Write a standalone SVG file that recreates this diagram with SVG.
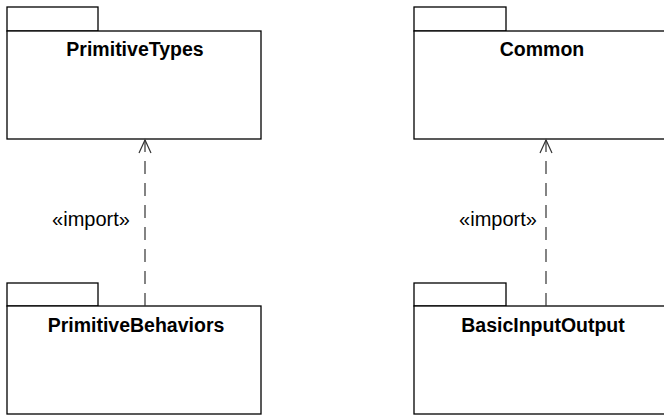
<svg xmlns="http://www.w3.org/2000/svg" width="664" height="416" viewBox="0 0 664 416">
<style>
.box{fill:#fff;stroke:#000;stroke-width:1.3}
.name{font-family:"Liberation Sans",Arial,sans-serif;font-weight:bold;font-size:19.5px;text-anchor:middle}
.lbl{font-family:"Liberation Sans",Arial,sans-serif;font-size:20px;text-anchor:middle}
.dep{stroke:#333;stroke-width:1.2;stroke-dasharray:13,9;fill:none}
.head{stroke:#333;stroke-width:1.2;fill:none}
</style>
<rect width="664" height="416" fill="#fff"/>
<g id="PrimitiveTypes">
<rect class="box" x="7" y="7" width="91" height="24"/>
<rect class="box" x="7" y="31" width="254" height="108"/>
<text class="name" x="135" y="56">PrimitiveTypes</text>
</g>
<g id="Common">
<rect class="box" x="414" y="7" width="92" height="24"/>
<rect class="box" x="414" y="31" width="260" height="108"/>
<text class="name" x="542" y="56">Common</text>
</g>
<g id="PrimitiveBehaviors">
<rect class="box" x="7" y="283" width="91" height="23"/>
<rect class="box" x="7" y="306" width="254" height="108"/>
<text class="name" x="136" y="332">PrimitiveBehaviors</text>
</g>
<g id="BasicInputOutput">
<rect class="box" x="414" y="283" width="92" height="23"/>
<rect class="box" x="414" y="306" width="260" height="108"/>
<text class="name" x="543" y="332">BasicInputOutput</text>
</g>
<g id="connectors">
<line class="dep" x1="145" y1="306" x2="145" y2="140"/>
<polyline class="head" points="139,153 145,140 151,153"/>
<text class="lbl" x="91" y="226">«import»</text>
<line class="dep" x1="546" y1="306" x2="546" y2="140"/>
<polyline class="head" points="540,153 546,140 552,153"/>
<text class="lbl" x="498" y="226">«import»</text>
</g>
</svg>
